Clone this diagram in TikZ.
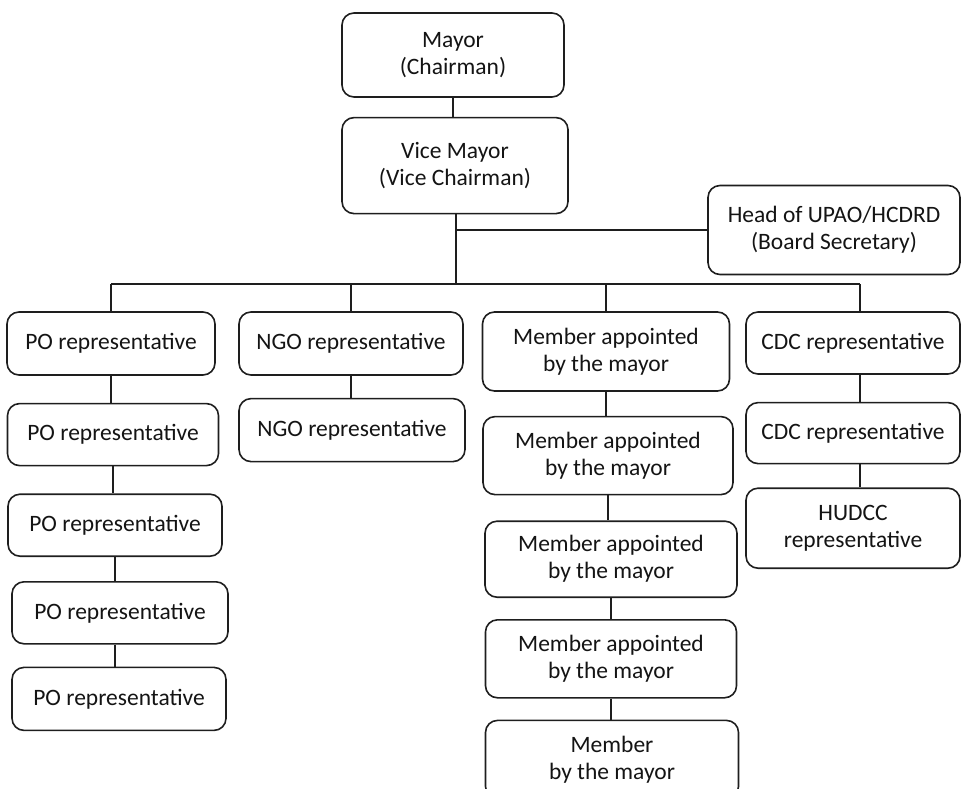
\documentclass[tikz,border=0pt]{standalone}
\usepackage{fontspec}
\setmainfont{Carlito}
\usetikzlibrary{positioning}
\definecolor{chartline}{RGB}{30,30,30}
\definecolor{charttext}{RGB}{20,20,20}
\tikzset{
  orgbox/.style={draw=chartline, line width=1.6pt, rounded corners=12pt, fill=white,
    align=center, inner sep=2pt, text=charttext, font=\fontsize{23.5}{27}\selectfont},
  link/.style={draw=chartline, line width=1.8pt}
}

\begin{document}
\begin{tikzpicture}[x=1pt, y=-1pt, node distance=24pt]
      \useasboundingbox (0,0) rectangle (963,788);
      \node[orgbox, minimum width=222pt, minimum height=84pt] (mayor) at (453,55) {Mayor\\(Chairman)};
      \node[orgbox, minimum width=226pt, minimum height=96pt, below=19pt of mayor, xshift=2pt] (vice) {Vice Mayor\\(Vice Chairman)};
      \node[orgbox, minimum width=252pt, minimum height=89pt] (head) at (834,230) {Head of UPAO/HCDRD\\(Board Secretary)};
      \coordinate (bar) at (456,284);
      \coordinate (barend) at (860,284);
      \node[orgbox, minimum width=208pt, minimum height=63pt] (po1) at (111,343.5) {PO representative};
      \node[orgbox, minimum width=211pt, minimum height=62pt, below=27pt of po1, xshift=2pt] (po2) {PO representative};
      \node[orgbox, minimum width=214pt, minimum height=62pt, below=27pt of po2, xshift=2pt] (po3) {PO representative};
      \node[orgbox, minimum width=216pt, minimum height=62pt, below=24pt of po3, xshift=5pt] (po4) {PO representative};
      \node[orgbox, minimum width=214pt, minimum height=63pt, below=22pt of po4, xshift=-1pt] (po5) {PO representative};
      \node[orgbox, minimum width=224pt, minimum height=63pt] (ngo1) at (351,343.5) {NGO representative};
      \node[orgbox, minimum width=226pt, minimum height=63pt, below=22pt of ngo1, xshift=1pt] (ngo2) {NGO representative};
      \node[orgbox, minimum width=247pt, minimum height=79pt] (mem1) at (606,351.5) {Member appointed\\by the mayor};
      \node[orgbox, minimum width=250pt, minimum height=78pt, below=24pt of mem1, xshift=2pt] (mem2) {Member appointed\\by the mayor};
      \node[orgbox, minimum width=252pt, minimum height=76pt, below=25pt of mem2, xshift=3pt] (mem3) {Member appointed\\by the mayor};
      \node[orgbox, minimum width=251pt, minimum height=78pt, below=21pt of mem3] (mem4) {Member appointed\\by the mayor};
      \node[orgbox, minimum width=253pt, minimum height=78pt, below=21pt of mem4, xshift=1pt] (mem5) {Member\\by the mayor};
      \node[orgbox, minimum width=214pt, minimum height=62pt] (cdc1) at (853,343) {CDC representative};
      \node[orgbox, minimum width=214pt, minimum height=61pt, below=27pt of cdc1] (cdc2) {CDC representative};
      \node[orgbox, minimum width=214pt, minimum height=80pt, below=23pt of cdc2] (hudcc) {HUDCC\\representative};
      \draw[link] (mayor.south) -- (mayor.south |- vice.north);
      \draw[link] (vice.south -| bar) -- (bar);
      \draw[link] (head.west -| bar) -- (head.west);
      \draw[link] (po1.north |- bar) -- (barend);
      \draw[link] (po1.north |- bar) -- (po1.north);
      \draw[link] (ngo1.north |- bar) -- (ngo1.north);
      \draw[link] (mem1.north |- bar) -- (mem1.north);
      \draw[link] (barend) -- (barend |- cdc1.north);
      \draw[link] (po1.south) -- (po1.south |- po2.north);
      \draw[link] (po2.south) -- (po2.south |- po3.north);
      \draw[link] (po3.south) -- (po3.south |- po4.north);
      \draw[link] (po3.south |- po4.south) -- (po3.south |- po5.north);
      \draw[link] (ngo1.south) -- (ngo1.south |- ngo2.north);
      \draw[link] (mem1.south) -- (mem1.south |- mem2.north);
      \draw[link] (mem2.south) -- (mem2.south |- mem3.north);
      \draw[link] (mem3.south) -- (mem3.south |- mem4.north);
      \draw[link] (mem4.south) -- (mem4.south |- mem5.north);
      \draw[link] (cdc1.south -| barend) -- (cdc2.north -| barend);
      \draw[link] (cdc2.south -| barend) -- (hudcc.north -| barend);
    \end{tikzpicture}
\end{document}
